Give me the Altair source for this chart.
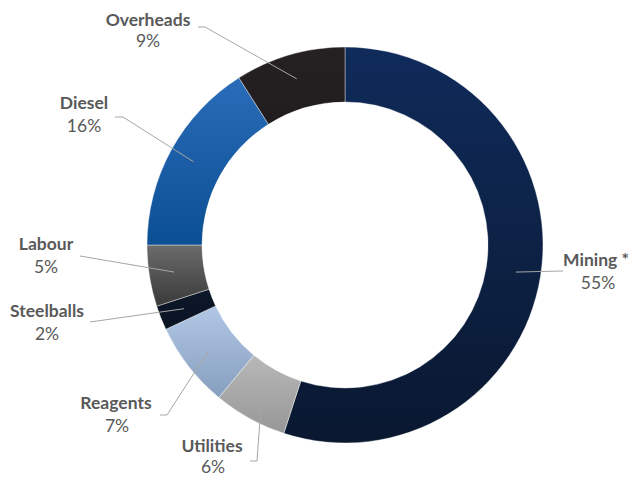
import math
import altair as alt
import pandas as pd

# ---- data ----
categories = ["Mining *", "Utilities", "Reagents", "Steelballs", "Labour", "Diesel", "Overheads"]
values = [55, 6, 7, 2, 5, 16, 9]
pct_labels = ["55%", "6%", "7%", "2%", "5%", "16%", "9%"]

# ---- style ----
grad_colors = {
    "Mining *": ("#0f2b5a", "#0a1830"),
    "Utilities": ("#b8b8b8", "#979797"),
    "Reagents": ("#b0c7e5", "#879fbe"),
    "Steelballs": ("#0c1729", "#0a1322"),
    "Labour": ("#6b6b6b", "#3a3a3a"),
    "Diesel": ("#2a6cb8", "#0b4f94"),
    "Overheads": ("#252122", "#211d1e"),
}
FS = 17.5

# ---- layout (page pixels; margin M removed below) ----
M = 8
W, H = 622, 470
CX, CY = 345 - M, 245 - M
R_OUT, R_IN, R_LEAD = 198, 143, 173

label_xy = {  # centre of name line, centre of percent line
    "Mining *": ((596, 261), (598, 284)),
    "Utilities": ((212, 447), (213, 468)),
    "Reagents": ((116, 404), (117, 427)),
    "Steelballs": ((47, 312), (47, 335)),
    "Labour": ((46, 245), (46, 268)),
    "Diesel": ((84, 104), (84, 127)),
    "Overheads": ((148, 21), (148, 42)),
}
leader_pts = {  # elbow, end
    "Mining *": ((563, 271), (563, 271)),
    "Utilities": ((257, 461), (250, 461)),
    "Reagents": ((167, 415), (160, 415)),
    "Steelballs": ((90, 322), (90, 322)),
    "Labour": ((80, 256), (80, 256)),
    "Diesel": ((123, 117), (115, 117)),
    "Overheads": ((205, 27), (198, 27)),
}

df = pd.DataFrame({"cat": categories, "value": values, "pct": pct_labels})
df["end"] = df["value"].cumsum()
df["start"] = df["end"] - df["value"]
df["mid"] = (df["start"] + df["end"]) / 2
df["sx"] = CX + R_LEAD * (df["mid"] / 100 * 2 * math.pi).apply(math.sin)
df["sy"] = CY - R_LEAD * (df["mid"] / 100 * 2 * math.pi).apply(math.cos)

xs = alt.Scale(domain=[0, W], range=[0, W])
ys = alt.Scale(domain=[0, H], range=[0, H])
ts = alt.Scale(domain=[0, 100], range=[0, 2 * math.pi])

layers = []
for c in categories:
    top, bot = grad_colors[c]
    g = alt.Gradient(
        gradient="linear",
        stops=[alt.GradientStop(color=top, offset=0), alt.GradientStop(color=bot, offset=1)],
        x1=0, x2=0, y1=0, y2=1,
    )
    arc = (
        alt.Chart(df)
        .transform_filter(alt.datum.cat == c)
        .mark_arc(radius=R_OUT, radius2=R_IN, color=g, stroke="#ffffff", strokeWidth=0.4)
        .encode(
            theta=alt.Theta("start:Q", scale=ts),
            theta2="end:Q",
            x=alt.value(CX),
            y=alt.value(CY),
        )
    )
    layers.append(arc)

seg_rows = []
text_rows = []
for _, r in df.iterrows():
    (ex, ey), (fx, fy) = leader_pts[r["cat"]]
    seg_rows.append({"x": r["sx"], "y": r["sy"], "x2": ex - M, "y2": ey - M})
    seg_rows.append({"x": ex - M, "y": ey - M, "x2": fx - M, "y2": fy - M})
    (nx, ny), (px, py) = label_xy[r["cat"]]
    text_rows.append({"x": nx - M, "y": ny - M, "t": r["cat"], "kind": "name"})
    text_rows.append({"x": px - M, "y": py - M, "t": r["pct"], "kind": "pct"})

segs = pd.DataFrame(seg_rows)
texts = pd.DataFrame(text_rows)

lines = alt.Chart(segs).mark_rule(color="#a6a6a6", strokeWidth=1).encode(
    x=alt.X("x:Q", scale=xs, axis=None),
    y=alt.Y("y:Q", scale=ys, axis=None),
    x2="x2:Q",
    y2="y2:Q",
)

names = alt.Chart(texts).transform_filter(alt.datum.kind == "name").mark_text(
    font="Lato", fontWeight="bold", fontSize=FS, color="#595959", align="center", baseline="middle"
).encode(x=alt.X("x:Q", scale=xs, axis=None), y=alt.Y("y:Q", scale=ys, axis=None), text="t:N")

pcts = alt.Chart(texts).transform_filter(alt.datum.kind == "pct").mark_text(
    font="Lato", fontSize=FS, color="#595959", align="center", baseline="middle"
).encode(x=alt.X("x:Q", scale=xs, axis=None), y=alt.Y("y:Q", scale=ys, axis=None), text="t:N")

chart = (
    alt.layer(*layers, lines, names, pcts)
    .properties(width=W, height=H, autosize=alt.AutoSizeParams(type="none"), padding=0)
    .configure_view(stroke=None)
)

chart.save("out.html", embed_options={"renderer": "svg", "actions": False})
